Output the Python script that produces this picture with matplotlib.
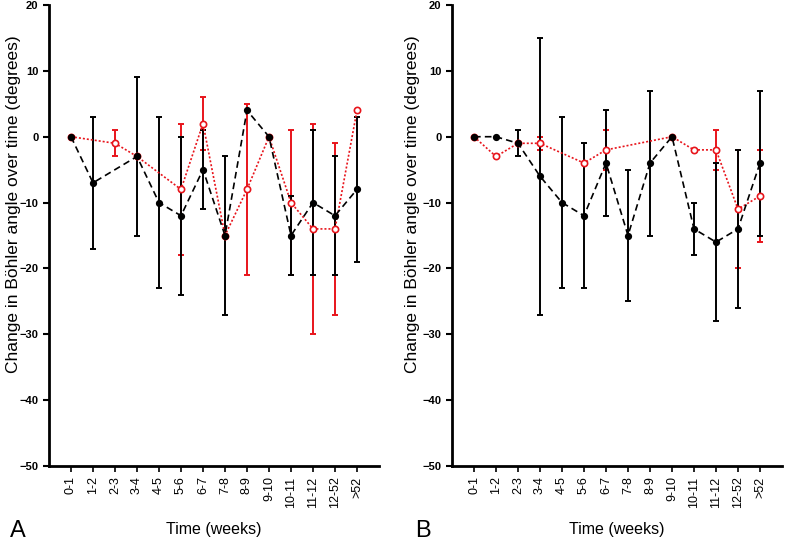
import matplotlib
matplotlib.use("Agg")
import matplotlib.pyplot as plt
import numpy as np

plt.rcParams['font.family'] = ['Liberation Sans', 'DejaVu Sans']

# Categorias del eje x
weeks = ['0-1', '1-2', '2-3', '3-4', '4-5', '5-6', '6-7', '7-8', '8-9',
         '9-10', '10-11', '11-12', '12-52', '>52']

# Panel A - serie negra (None = sin dato)
a_black = [0, -7, None, -3, -10, -12, -5, -15, 4, 0, -15, -10, -12, -8]
a_black_err = [0, 10, 0, 12, 13, 12, 6, 12, 0, 0, 6, 11, 9, 11]
# Panel A - serie roja
a_red = [0, None, -1, -3, None, -8, 2, -15, -8, 0, -10, -14, -14, 4]
a_red_err = [0, 0, 2, 0, 0, 10, 4, 0, 13, 0, 11, 16, 13, 0]

# Panel B - serie negra
b_black = [0, 0, -1, -6, -10, -12, -4, -15, -4, 0, -14, -16, -14, -4]
b_black_err = [0, 0, 2, 21, 13, 11, 8, 10, 11, 0, 4, 12, 12, 11]
# Panel B - serie roja
b_red = [0, -3, -1, -1, None, -4, -2, None, None, 0, -2, -2, -11, -9]
b_red_err = [0, 0, 0, 1, 0, 0, 3, 0, 0, 0, 0, 3, 9, 7]

fig = plt.figure(figsize=(7.87, 5.42), dpi=100)
ax_a = fig.add_axes([49 / 787, 1 - 466 / 542, 330 / 787, 461 / 542])
ax_b = fig.add_axes([452 / 787, 1 - 466 / 542, 330 / 787, 461 / 542])


def draw_series(ax, vals, errs, color, fmt_ls, marker, mfc, ms):
    x = np.array([i + 1 for i, v in enumerate(vals) if v is not None])
    y = np.array([v for v in vals if v is not None])
    e = np.array([errs[i] for i, v in enumerate(vals) if v is not None])
    ax.errorbar(x, y, yerr=np.where(e > 0, e, np.nan), fmt='none',
                ecolor=color, elinewidth=1.4, capsize=2.5, capthick=1.4, zorder=2)
    ax.plot(x, y, linestyle=fmt_ls, color=color, lw=1.2, marker=marker,
            markersize=ms, markerfacecolor=mfc, markeredgecolor=color,
            markeredgewidth=1.2, zorder=3)


for ax, blk, blk_e, red, red_e, letter, lx, labx in [
        (ax_a, a_black, a_black_err, a_red, a_red_err, 'A', 18, 21),
        (ax_b, b_black, b_black_err, b_red, b_red_err, 'B', 423, 420)]:
    draw_series(ax, red, red_e, '#e8141b', (0, (1.2, 1.2)), 'o', 'white', 4.5)
    draw_series(ax, blk, blk_e, 'black', (0, (4, 2.5)), 'o', 'black', 4)

    ax.set_xlim(0, 15)
    ax.set_ylim(-50, 20)
    ax.set_yticks(range(-50, 21, 10))
    ax.set_xticks(range(1, 15))
    ax.set_xticklabels(weeks, rotation=90, fontsize=9)
    ax.tick_params(axis='y', labelsize=8, width=1.5, length=4)
    ax.tick_params(axis='x', width=1.2, length=4)
    for lab in ax.get_yticklabels():
        lab.set_fontweight('bold')
    for s in ['top', 'right']:
        ax.spines[s].set_visible(False)
    for s in ['left', 'bottom']:
        ax.spines[s].set_linewidth(2)
    ax.set_ylabel('Change in Böhler angle over time (degrees)', fontsize=12.5)
    pos = ax.get_position()
    ax.yaxis.set_label_coords((labx / 787 - pos.x0) / pos.width,
                              ((1 - 204 / 542) - pos.y0) / pos.height)
    ax.set_xlabel('Time (weeks)', fontsize=11.5, labelpad=10)
    fig.text(lx / 787, 1 - 531 / 542, letter, fontsize=17,
             va='center', ha='center')

fig.savefig('out.png', dpi=100)
